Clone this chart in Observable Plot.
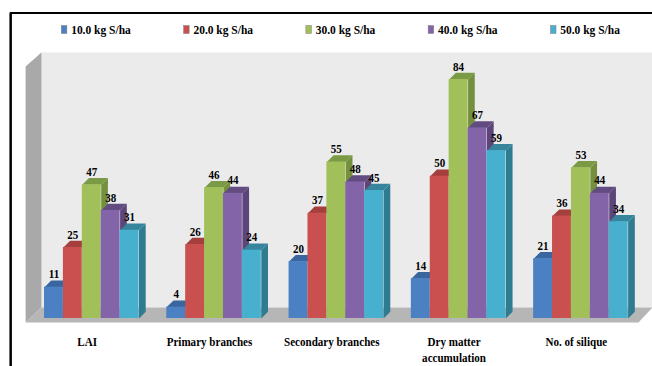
<!DOCTYPE html>
<html>
<head>
<meta charset="utf-8">
<style>html,body{margin:0;padding:0;background:#fff}</style>
<script src="https://cdn.jsdelivr.net/npm/d3@7"></script>
<script src="https://cdn.jsdelivr.net/npm/@observablehq/plot@0.6"></script>
</head>
<body>
<div id="chart"></div>
<script>
// Crop response to sulphur levels
const categories = ["LAI", "Primary branches", "Secondary branches", "Dry matter\naccumulation", "No. of silique"];
const doses = ["10.0 kg S/ha", "20.0 kg S/ha", "30.0 kg S/ha", "40.0 kg S/ha", "50.0 kg S/ha"];
const dose10 = [11, 4, 20, 14, 21];
const dose20 = [25, 26, 37, 50, 36];
const dose30 = [47, 46, 55, 84, 53];
const dose40 = [38, 44, 48, 67, 44];
const dose50 = [31, 24, 45, 59, 34];
const frontColors = ["#4b80c3", "#c9504f", "#a2c05a", "#8464a8", "#47b0cf"];
const sideColors = ["#33608f", "#933a39", "#74903f", "#5c4679", "#2f7b90"];
const topColors = ["#39669f", "#a43f3e", "#7b9a46", "#614b80", "#37859d"];

const seriesValues = [dose10, dose20, dose30, dose40, dose50];

// The x scale counts bar widths; the y scale counts category values.
const groupStep = 6.47;
const depthX = 0.355;
const depthY = 2.35;
const bars = seriesValues.flatMap((values, s) =>
  values.map((v, c) => ({s, c, v, x0: c * groupStep + s, x1: c * groupStep + s + 1}))
);

const polygon = (id, color, pts) => pts.map(([x, y]) => ({id, color, x, y}));
const sides = bars.flatMap((b, i) => polygon(i, sideColors[b.s], [
  [b.x1, 0], [b.x1 + depthX, depthY], [b.x1 + depthX, b.v + depthY], [b.x1, b.v]
]));
const tops = bars.flatMap((b, i) => polygon(i, topColors[b.s], [
  [b.x0, b.v], [b.x1, b.v], [b.x1 + depthX, b.v + depthY], [b.x0 + depthX, b.v + depthY]
]));
const shell = [
  ...polygon("wall", "#ebebeb", [[-0.16, 3.9], [32.17, 3.9], [32.17, 93.5], [-0.16, 93.5]]),
  ...polygon("left", "#a9a9a9", [[-1, -1.4], [-0.16, 3.9], [-0.16, 93.5], [-1, 88.6]]),
  ...polygon("floor", "#b6b6b6", [[-1, -1.4], [31.43, -1.4], [32.17, 3.9], [-0.16, 3.9]])
];
const face = (data) => Plot.line(data, {x: "x", y: "y", z: "id", fill: "color", stroke: "none"});

const serif = "'Liberation Serif', 'Times New Roman', serif";
const legendY = 101.4;

const chart = Plot.plot({
  width: 652,
  height: 366,
  marginTop: 0,
  marginRight: 0,
  marginBottom: 48,
  marginLeft: 0,
  style: {background: "#fff", fontFamily: serif, overflow: "hidden"},
  x: {domain: [0, 10], range: [44, 233], axis: null},
  y: {domain: [0, 100], range: [318, 33.5], axis: null},
  color: {type: "identity"},
  marks: [
    face(shell),
    face(sides),
    face(tops),
    Plot.rect(bars, {x1: "x0", x2: "x1", y1: 0, y2: "v", fill: (d) => frontColors[d.s]}),
    Plot.text(bars, {
      x: (d) => d.x0 + 0.5, y: "v", text: "v", dy: -13,
      fontSize: 13, fontWeight: "bold", fill: "#000"
    }),
    Plot.axisX(categories.map((_, c) => c * groupStep + 2.26), {
      tickSize: 0,
      tickPadding: 17,
      lineAnchor: "top",
      lineHeight: 1.18,
      tickFormat: (_, i) => categories[i],
      fontSize: 13,
      fontWeight: "bold",
      fill: "#000"
    }),
    // Legend row
    Plot.rect(doses, {
      x1: (_, i) => 0.915 + i * groupStep, x2: (_, i) => 1.21 + i * groupStep,
      y1: legendY - 1.4, y2: legendY + 1.4,
      fill: (_, i) => frontColors[i], stroke: "#7f7f7f", strokeWidth: 0.5
    }),
    Plot.text(doses, {
      x: (_, i) => 1.41 + i * groupStep, y: legendY, text: (d) => d,
      textAnchor: "start", fontSize: 13.5, fontWeight: "bold", fill: "#000"
    }),
    // Frame: left and top edges
    Plot.ruleX([-1.79], {y1: -20, y2: 107.4, stroke: "#000", strokeWidth: 2.5}),
    Plot.ruleY([107.4], {x1: -1.79, x2: 33, stroke: "#000", strokeWidth: 2})
  ]
});
document.getElementById("chart").append(chart);

// Condense the serif lettering so the labels keep their tall, narrow look.
chart.querySelectorAll("text").forEach((node) => {
  const runs = node.querySelectorAll("tspan");
  (runs.length ? [...runs] : [node]).forEach((run) => {
    run.setAttribute("textLength", (run.getComputedTextLength() * 0.85).toFixed(1));
    run.setAttribute("lengthAdjust", "spacingAndGlyphs");
  });
});
</script>
</body>
</html>
